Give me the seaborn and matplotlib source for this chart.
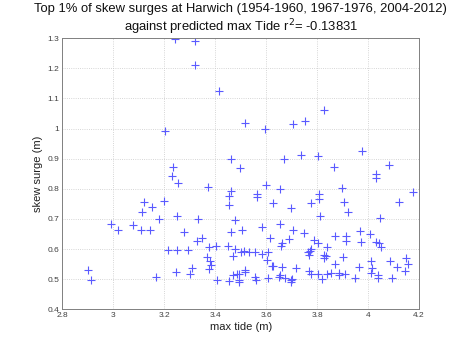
import numpy as np
import pandas as pd
import matplotlib
matplotlib.use("Agg")
import matplotlib.pyplot as plt
from matplotlib.ticker import FuncFormatter
import seaborn as sns

max_tide = [
    2.902, 2.913, 2.991, 3.020, 3.076, 3.110, 3.111, 3.119, 3.145, 3.154,
    3.167, 3.178, 3.200, 3.204, 3.213, 3.231, 3.235, 3.242, 3.245, 3.250,
    3.252, 3.254, 3.276, 3.294, 3.301, 3.308, 3.319, 3.322, 3.329, 3.331,
    3.348, 3.375, 3.367, 3.379, 3.383, 3.377, 3.370, 3.404, 3.406, 3.417,
    3.452, 3.454, 3.455, 3.455, 3.463, 3.463, 3.498, 3.463, 3.469, 3.476,
    3.477, 3.469, 3.486, 3.494, 3.492, 3.494, 3.503, 3.507, 3.514, 3.517,
    3.519, 3.518, 3.533, 3.557, 3.558, 3.562,
    3.566, 3.566, 3.583, 3.582, 3.596, 3.600, 3.606, 3.605, 3.608, 3.617,
    3.622, 3.626, 3.626, 3.653, 3.654, 3.659, 3.664, 3.664, 3.654, 3.651,
    3.669, 3.675, 3.690, 3.696, 3.696, 3.702, 3.698, 3.704, 3.706,
    3.719, 3.737, 3.747, 3.753, 3.763, 3.768, 3.771, 3.778, 3.769, 3.777,
    3.775, 3.787, 3.802, 3.804, 3.805, 3.808, 3.809, 3.813, 3.821, 3.827,
    3.828, 3.837, 3.827, 3.839, 3.839, 3.853, 3.867, 3.871, 3.872, 3.885,
    3.888, 3.898, 3.900,
    3.906, 3.911, 3.913, 3.913, 3.923, 3.949, 3.966, 3.970, 3.973, 3.975,
    4.009, 4.011, 4.012, 4.014, 4.030, 4.030, 4.033, 4.038, 4.038, 4.043,
    4.046, 4.051, 4.082, 4.087, 4.094, 4.115, 4.120, 4.145, 4.150, 4.156,
    4.178,
]
skew_surge = [
    0.531, 0.496, 0.682, 0.662, 0.679, 0.662, 0.722, 0.756, 0.664, 0.741,
    0.508, 0.699, 0.759, 0.991, 0.596, 0.843, 0.872, 1.298, 0.525, 0.598,
    0.711, 0.819, 0.657, 0.597, 0.518, 0.537, 1.290, 1.210, 0.626, 0.700,
    0.638, 0.608, 0.575, 0.560, 0.546, 0.534, 0.806, 0.612, 0.496, 1.125,
    0.611, 0.494, 0.745, 0.776, 0.792, 0.898, 0.868, 0.658, 0.578, 0.602,
    0.697, 0.515, 0.517, 0.518, 0.496, 0.490, 0.589, 0.663, 0.594, 0.523,
    0.531, 1.019, 0.591, 0.591, 0.506, 0.498,
    0.784, 0.773, 0.674, 0.583, 0.999, 0.813, 0.592, 0.565, 0.503, 0.638,
    0.545, 0.543, 0.754, 0.800, 0.685, 0.609, 0.619, 0.541, 0.514, 0.507,
    0.900, 0.503, 0.634, 0.738, 0.498, 0.500, 0.491, 0.664, 1.014,
    0.539, 0.913, 0.655, 1.025, 0.589, 0.581, 0.593, 0.602, 0.527, 0.516,
    0.754, 0.630, 0.908, 0.516, 0.620, 0.784, 0.766, 0.709, 0.500, 0.582,
    0.572, 0.577, 1.062, 0.608, 0.518, 0.521, 0.871, 0.551, 0.644, 0.521,
    0.515, 0.802, 0.574,
    0.757, 0.519, 0.643, 0.628, 0.722, 0.504, 0.542, 0.661, 0.624, 0.925,
    0.649, 0.559, 0.521, 0.538, 0.849, 0.835, 0.624, 0.515, 0.503, 0.619,
    0.702, 0.607, 0.878, 0.560, 0.503, 0.541, 0.758, 0.528, 0.572, 0.550,
    0.790,
]

x_ticks = [2.8, 3.0, 3.2, 3.4, 3.6, 3.8, 4.0, 4.2]
y_ticks = [0.4, 0.5, 0.6, 0.7, 0.8, 0.9, 1.0, 1.1, 1.2, 1.3]

df = pd.DataFrame({"max_tide": max_tide, "skew_surge": skew_surge})

sns.set_theme(style="white")
plt.rcParams["font.family"] = ["Liberation Sans", "DejaVu Sans"]

fig = plt.figure(figsize=(4.65, 3.5), dpi=100)
ax = fig.add_axes([0.134, 0.116, 0.767, 0.775])

marker_color = "#5a5aff"
sns.scatterplot(data=df, x="max_tide", y="skew_surge", marker="+",
                color=marker_color, s=26, linewidth=0.8, ax=ax,
                legend=False)

ax.set_xlim(2.8, 4.2)
ax.set_ylim(0.4, 1.3)
ax.set_xticks(x_ticks)
ax.set_yticks(y_ticks)
fmt = FuncFormatter(lambda v, p: f"{v:g}")
ax.xaxis.set_major_formatter(fmt)
ax.yaxis.set_major_formatter(fmt)
ax.tick_params(axis="both", direction="in", length=3, width=0.6,
               labelsize=6, colors="#404040", pad=2)
ax.grid(True, linestyle=":", color="#c8c8c8", linewidth=0.6)
for sp in ax.spines.values():
    sp.set_color("#808080")
    sp.set_linewidth(0.7)

ax.set_xlabel("max tide (m)", fontsize=8, color="#202020", labelpad=2)
ax.set_ylabel("skew surge (m)", fontsize=8, color="#202020", labelpad=3)
ax.set_title("Top 1% of skew surges at Harwich (1954-1960, 1967-1976, 2004-2012)\n"
             "against predicted max Tide r$^{2}$= -0.13831",
             fontsize=9.4, color="#101010", pad=5, linespacing=1.15)

fig.savefig("out.png", dpi=100)
